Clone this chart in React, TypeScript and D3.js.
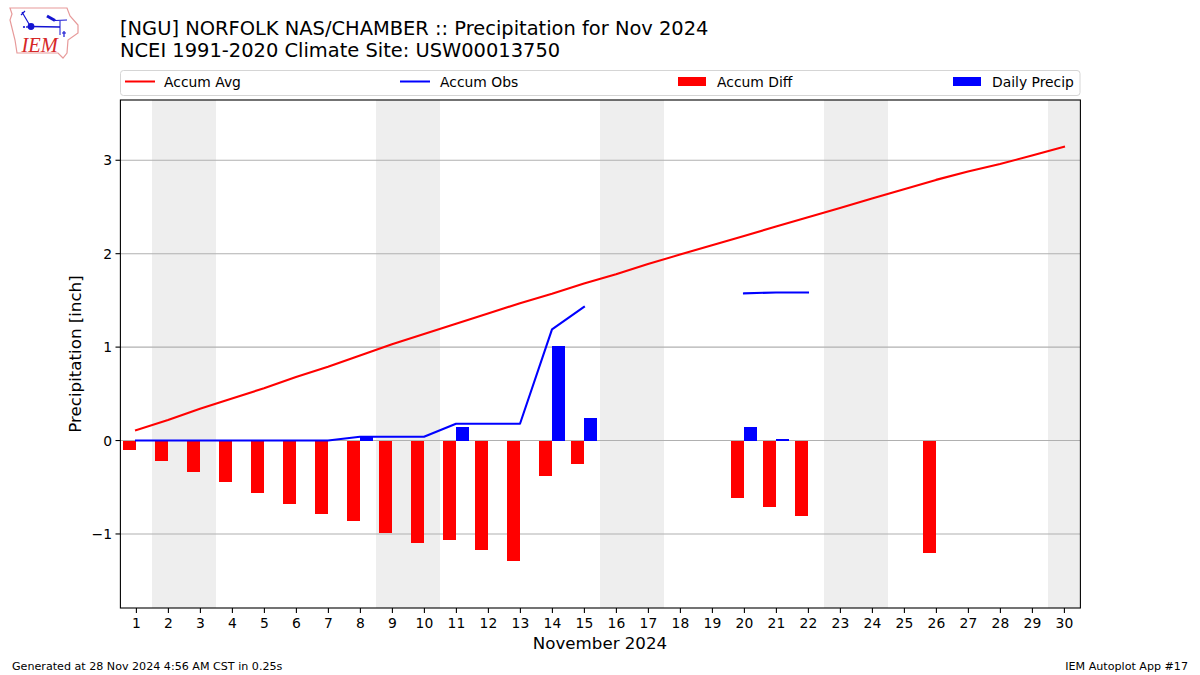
import React from "react";
import * as d3 from "d3";

const days = d3.range(1, 31);
const dayTicks = d3.range(1, 31);
const yTicks = [-1, 0, 1, 2, 3];
const accumAvg = [0.11,0.22,0.34,0.45,0.56,0.68,0.79,0.91,1.03,1.14,1.25,1.36,1.47,1.57,1.68,1.78,1.89,1.99,2.09,2.19,2.29,2.39,2.49,2.59,2.69,2.79,2.88,2.96,3.05,3.145];
const accumObs: (number|null)[] = [0,0,0,0,0,0,0,0.04,0.04,0.04,0.18,0.18,0.18,1.19,1.43,null,null,null,null,1.575,1.585,1.585,null,null,null,null,null,null,null,null];
const accumDiff: (number|null)[] = [-0.1,-0.22,-0.34,-0.44,-0.56,-0.68,-0.79,-0.86,-0.99,-1.1,-1.06,-1.17,-1.29,-0.38,-0.25,null,null,null,null,-0.62,-0.71,-0.81,null,null,null,-1.2,null,null,null,null];
const dailyPrecip: (number|null)[] = [0,0,0,0,0,0,0,0.04,0,0,0.14,0,0,1.01,0.24,null,null,null,null,0.14,0.02,0,null,null,null,null,null,null,null,null];
const weekends = [[1.5,3.5],[8.5,10.5],[15.5,17.5],[22.5,24.5],[29.5,30.5]];
const title1 = "[NGU] NORFOLK NAS/CHAMBER :: Precipitation for Nov 2024";
const title2 = "NCEI 1991-2020 Climate Site: USW00013750";

const FONT = "'DejaVu Sans', sans-serif";
const L = 120, R = 1080, T = 100, B = 608;
const x = d3.scaleLinear().domain([0.5, 30.5]).range([L, R]);
const y = d3.scaleLinear().domain([-1.7925, 3.645]).range([B, T]);
const barW = x(0.4) - x(0);

function Logo() {
  const outline = "M10,8 L67,8 L70,16 L78,25 L78,33 L68,40 L67,53 L63,58 L58,53 L17,53 L15,40 L10,20 L12,14 Z";
  return (
    <g>
      <path d={outline} fill="#fff" stroke="#e79a9a" strokeWidth={1.2} />
      <g stroke="#1414d2" fill="none">
        <path d="M31,26.5 L60,27" strokeWidth={1.5} />
        <path d="M60,21 L60,35" strokeWidth={1} />
        <path d="M22,12 L29,24 M21,15 L25,11" strokeWidth={1.2} />
        <path d="M47,16 L55,20.5" strokeWidth={3} />
        <path d="M55,20.5 L67,20" strokeWidth={1.2} />
        <path d="M64,31 L64,37 M62,33 L66,33" strokeWidth={1.2} />
      </g>
      <circle cx={31} cy={26.5} r={3.4} fill="#1414d2" />
      <circle cx={24} cy={27} r={1.1} fill="#1414d2" />
      <circle cx={27} cy={27} r={0.9} fill="#1414d2" />
      <text x={21.5} y={51.5} fontFamily="'Liberation Serif', serif" fontStyle="italic" fontSize={20.5} fill="#d62828">IEM</text>
    </g>
  );
}

export default function App() {
  const avgLine = d3.line<number>().x((_, i) => x(days[i])).y(d => y(d));
  const obsLine = d3.line<number|null>().defined(d => d !== null).x((_, i) => x(days[i])).y(d => y(d as number));
  const txt = { fontFamily: FONT, fill: "#000" };
  return (
    <svg width={1200} height={675} style={{ position: "absolute", left: 0, top: 0, background: "#fff" }}>
      <Logo />
      <text x={120} y={35} fontSize={19.44} {...txt}>{title1}</text>
      <text x={120} y={57} fontSize={19.44} {...txt}>{title2}</text>

      {/* legend */}
      <rect x={120.5} y={70.5} width={959.5} height={25} rx={3} fill="#fff" stroke="#d5d5d5" strokeWidth={1} />
      <line x1={126} x2={154} y1={81.5} y2={81.5} stroke="#f00" strokeWidth={2} strokeLinecap="square" />
      <text x={164} y={86.5} fontSize={13.89} {...txt}>Accum Avg</text>
      <line x1={401} x2={429} y1={81.5} y2={81.5} stroke="#00f" strokeWidth={2} strokeLinecap="square" />
      <text x={440} y={86.5} fontSize={13.89} {...txt}>Accum Obs</text>
      <rect x={678} y={77} width={28} height={9} fill="#f00" />
      <text x={717} y={86.5} fontSize={13.89} {...txt}>Accum Diff</text>
      <rect x={953} y={77} width={28} height={9} fill="#00f" />
      <text x={992} y={86.5} fontSize={13.89} {...txt}>Daily Precip</text>

      {/* weekends */}
      {weekends.map(([a, b]) => (
        <rect key={a} x={x(a)} y={T} width={x(b) - x(a)} height={B - T} fill="#eeeeee" shapeRendering="crispEdges" />
      ))}
      {/* grid */}
      {yTicks.map(t => (
        <line key={t} x1={L} x2={R} y1={y(t)} y2={y(t)} stroke="#b0b0b0" strokeWidth={1.1} />
      ))}
      {/* bars */}
      {accumDiff.map((d, i) => d === null ? null : (
        <rect key={i} x={x(days[i] - 0.4)} width={barW} y={y(0)} height={y(d) - y(0)} fill="#f00" shapeRendering="crispEdges" />
      ))}
      {dailyPrecip.map((d, i) => !d ? null : (
        <rect key={i} x={x(days[i])} width={barW} y={y(d)} height={y(0) - y(d)} fill="#00f" shapeRendering="crispEdges" />
      ))}
      {/* lines */}
      <path d={avgLine(accumAvg) ?? ""} fill="none" stroke="#f00" strokeWidth={2.08} strokeLinecap="square" strokeLinejoin="round" />
      <path d={obsLine(accumObs) ?? ""} fill="none" stroke="#00f" strokeWidth={2.08} strokeLinecap="square" strokeLinejoin="round" />

      {/* frame */}
      <rect x={L + 0.4} y={T} width={R - L} height={B - T} fill="none" stroke="#000" strokeWidth={1.1} />

      {/* y axis */}
      {yTicks.map(t => (
        <g key={t}>
          <line x1={L - 4.5} x2={L + 0.4} y1={y(t)} y2={y(t)} stroke="#000" strokeWidth={1.1} />
          <text x={L - 8} y={y(t) + 5} fontSize={13.89} textAnchor="end" {...txt}>{t < 0 ? "\u2212" + Math.abs(t) : t}</text>
        </g>
      ))}
      {/* x axis */}
      {dayTicks.map(t => (
        <g key={t}>
          <line x1={x(t) + 0.4} x2={x(t) + 0.4} y1={B} y2={B + 4.9} stroke="#000" strokeWidth={1.1} />
          <text x={x(t) + 0.4} y={628} fontSize={13.89} textAnchor="middle" {...txt}>{t}</text>
        </g>
      ))}
      <text x={600} y={649} fontSize={16.67} textAnchor="middle" {...txt}>November 2024</text>
      <text transform={`translate(81,354) rotate(-90)`} fontSize={16.67} textAnchor="middle" {...txt}>Precipitation [inch]</text>
      <text x={12} y={670} fontSize={11.11} {...txt}>Generated at 28 Nov 2024 4:56 AM CST in 0.25s</text>
      <text x={1188} y={670} fontSize={11.11} textAnchor="end" {...txt}>IEM Autoplot App #17</text>
    </svg>
  );
}
